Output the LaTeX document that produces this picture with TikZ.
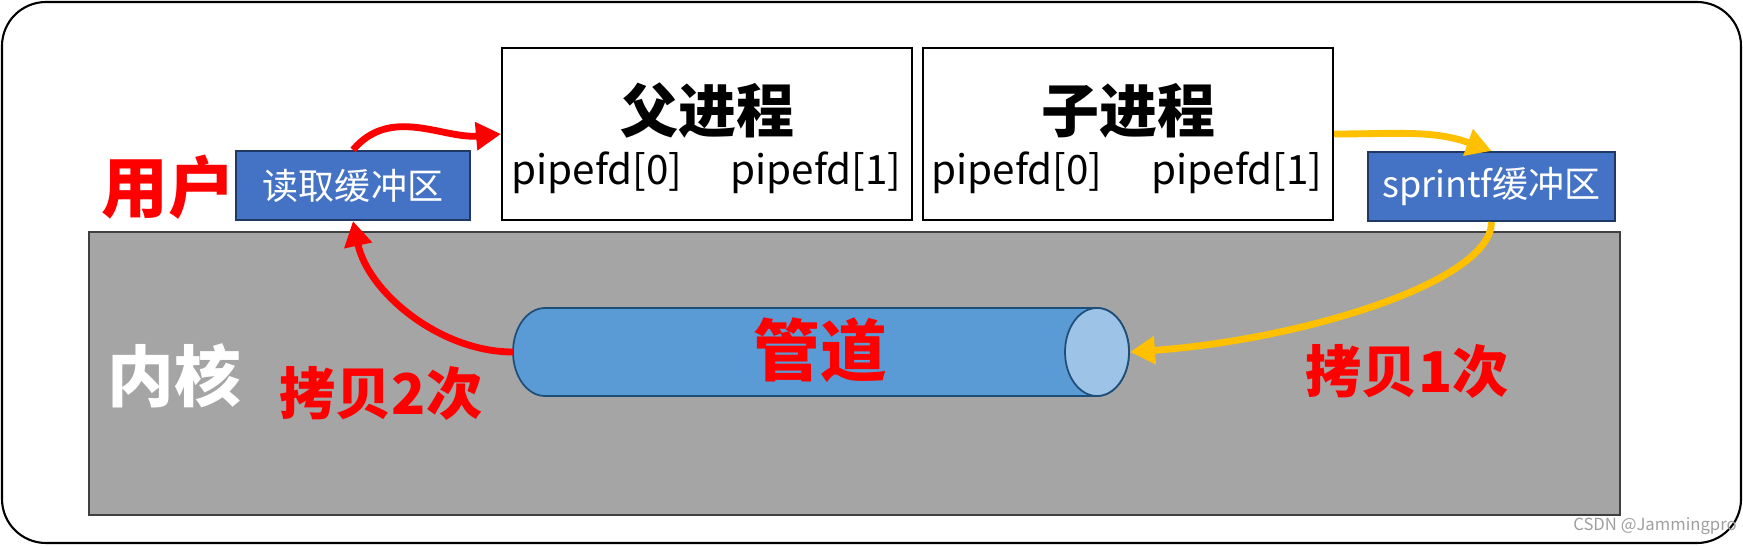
\documentclass[tikz,border=0pt]{standalone}
\usepackage{fontspec}
\setmainfont{Noto Sans CJK SC}
\usetikzlibrary{arrows.meta}
\definecolor{bufblue}{HTML}{4472C4}
\definecolor{bufline}{HTML}{1F3864}
\definecolor{kgray}{HTML}{A5A5A5}
\definecolor{kline}{HTML}{404040}
\definecolor{pipebody}{HTML}{5B9BD5}
\definecolor{pipeend}{HTML}{9DC3E6}
\definecolor{pipeline}{HTML}{1F4E79}
\definecolor{copyyel}{HTML}{FFC000}
\newcommand{\fsz}[1]{\fontsize{#1}{#1}\selectfont}
\begin{document}
\begin{tikzpicture}[x=0.02cm, y=0.02cm, every node/.style={inner sep=0pt},
  proc/.style={draw,line width=1.2pt,minimum width=8.2cm,minimum height=3.44cm},
  buf/.style={draw=bufline,line width=1.2pt,fill=bufblue,minimum height=1.38cm,text=white,font=\fsz{20.5pt}},
  fdlbl/.style={font=\fsz{23pt}},
  title/.style={font=\fsz{33pt}\bfseries},
  redlbl/.style={text=red,font=\fsz{32pt}\bfseries},
  pipeend/.style={x radius=0.64cm,y radius=0.88cm},
  copyarr/.style={line width=3.9pt,-{Triangle[length=0.5cm,width=0.54cm]}}]
\useasboundingbox (0,0) rectangle (1743,545);
\draw[line width=1.2pt,rounded corners=0.88cm] (2,2) rectangle (1741,543);
% kernel space
\node[draw=kline,line width=1.2pt,fill=kgray,minimum width=30.62cm,minimum height=5.66cm] (kern) at (854.5,171.5) {};
\node[text=white,font=\fsz{38pt}\bfseries] (kernlbl) at (174,169) {内核};
\node[text=red,font=\fsz{38pt}\bfseries] (userlbl) at (168,358) {用户};
% processes
\node[proc] (parent) at (707,411) {};
\node[title] (ptitle) at (707,434) {父进程};
\node[fdlbl] (pfd0) at (597,372) {pipefd[0]};
\node[fdlbl] (pfd1) at (816,372) {pipefd[1]};
\node[proc] (child) at (1128,411) {};
\node[title] (ctitle) at (1128,434) {子进程};
\node[fdlbl] (cfd0) at (1017,372) {pipefd[0]};
\node[fdlbl] (cfd1) at (1237,372) {pipefd[1]};
% buffers
\node[buf,minimum width=4.68cm] (rbuf) at (353,359.5) {读取缓冲区};
\node[buf,minimum width=4.94cm] (sbuf) at (1491.5,358.5) {sprintf缓冲区};
% pipe
\draw[draw=pipeline,line width=1pt,fill=pipebody] (545,237) -- (1097,237)
  arc[start angle=90,end angle=-90,pipeend] -- (545,149) arc[start angle=270,end angle=90,pipeend] -- cycle;
\draw[draw=pipeline,line width=1pt,fill=pipeend] (1097,193) ellipse[pipeend];
\node[text=red,font=\fsz{38pt}\bfseries] (pipe) at (820.5,195) {管道};
\coordinate (pipeL) at (513,193);
\coordinate (pipeR) at (1130,193);
% copies
\draw[copyarr,red] (rbuf.north) to[out=50,in=185] (parent.west);
\draw[copyarr,red] (pipeL) to[out=180,in=-78,looseness=0.9] (rbuf.south);
\draw[copyarr,copyyel] (child.east) to[out=0,in=160] (sbuf.north);
\draw[copyarr,copyyel] (sbuf.south) to[out=-90,in=4,out looseness=0.4,in looseness=1.13] (pipeR);
\node[redlbl] (copy2) at (381,152) {拷贝2次};
\node[redlbl] (copy1) at (1407,174) {拷贝1次};
\node[text=gray!75,font=\fsz{9.5pt}] (mark) at (1655,19) {CSDN @Jammingpro};
\end{tikzpicture}
\end{document}
